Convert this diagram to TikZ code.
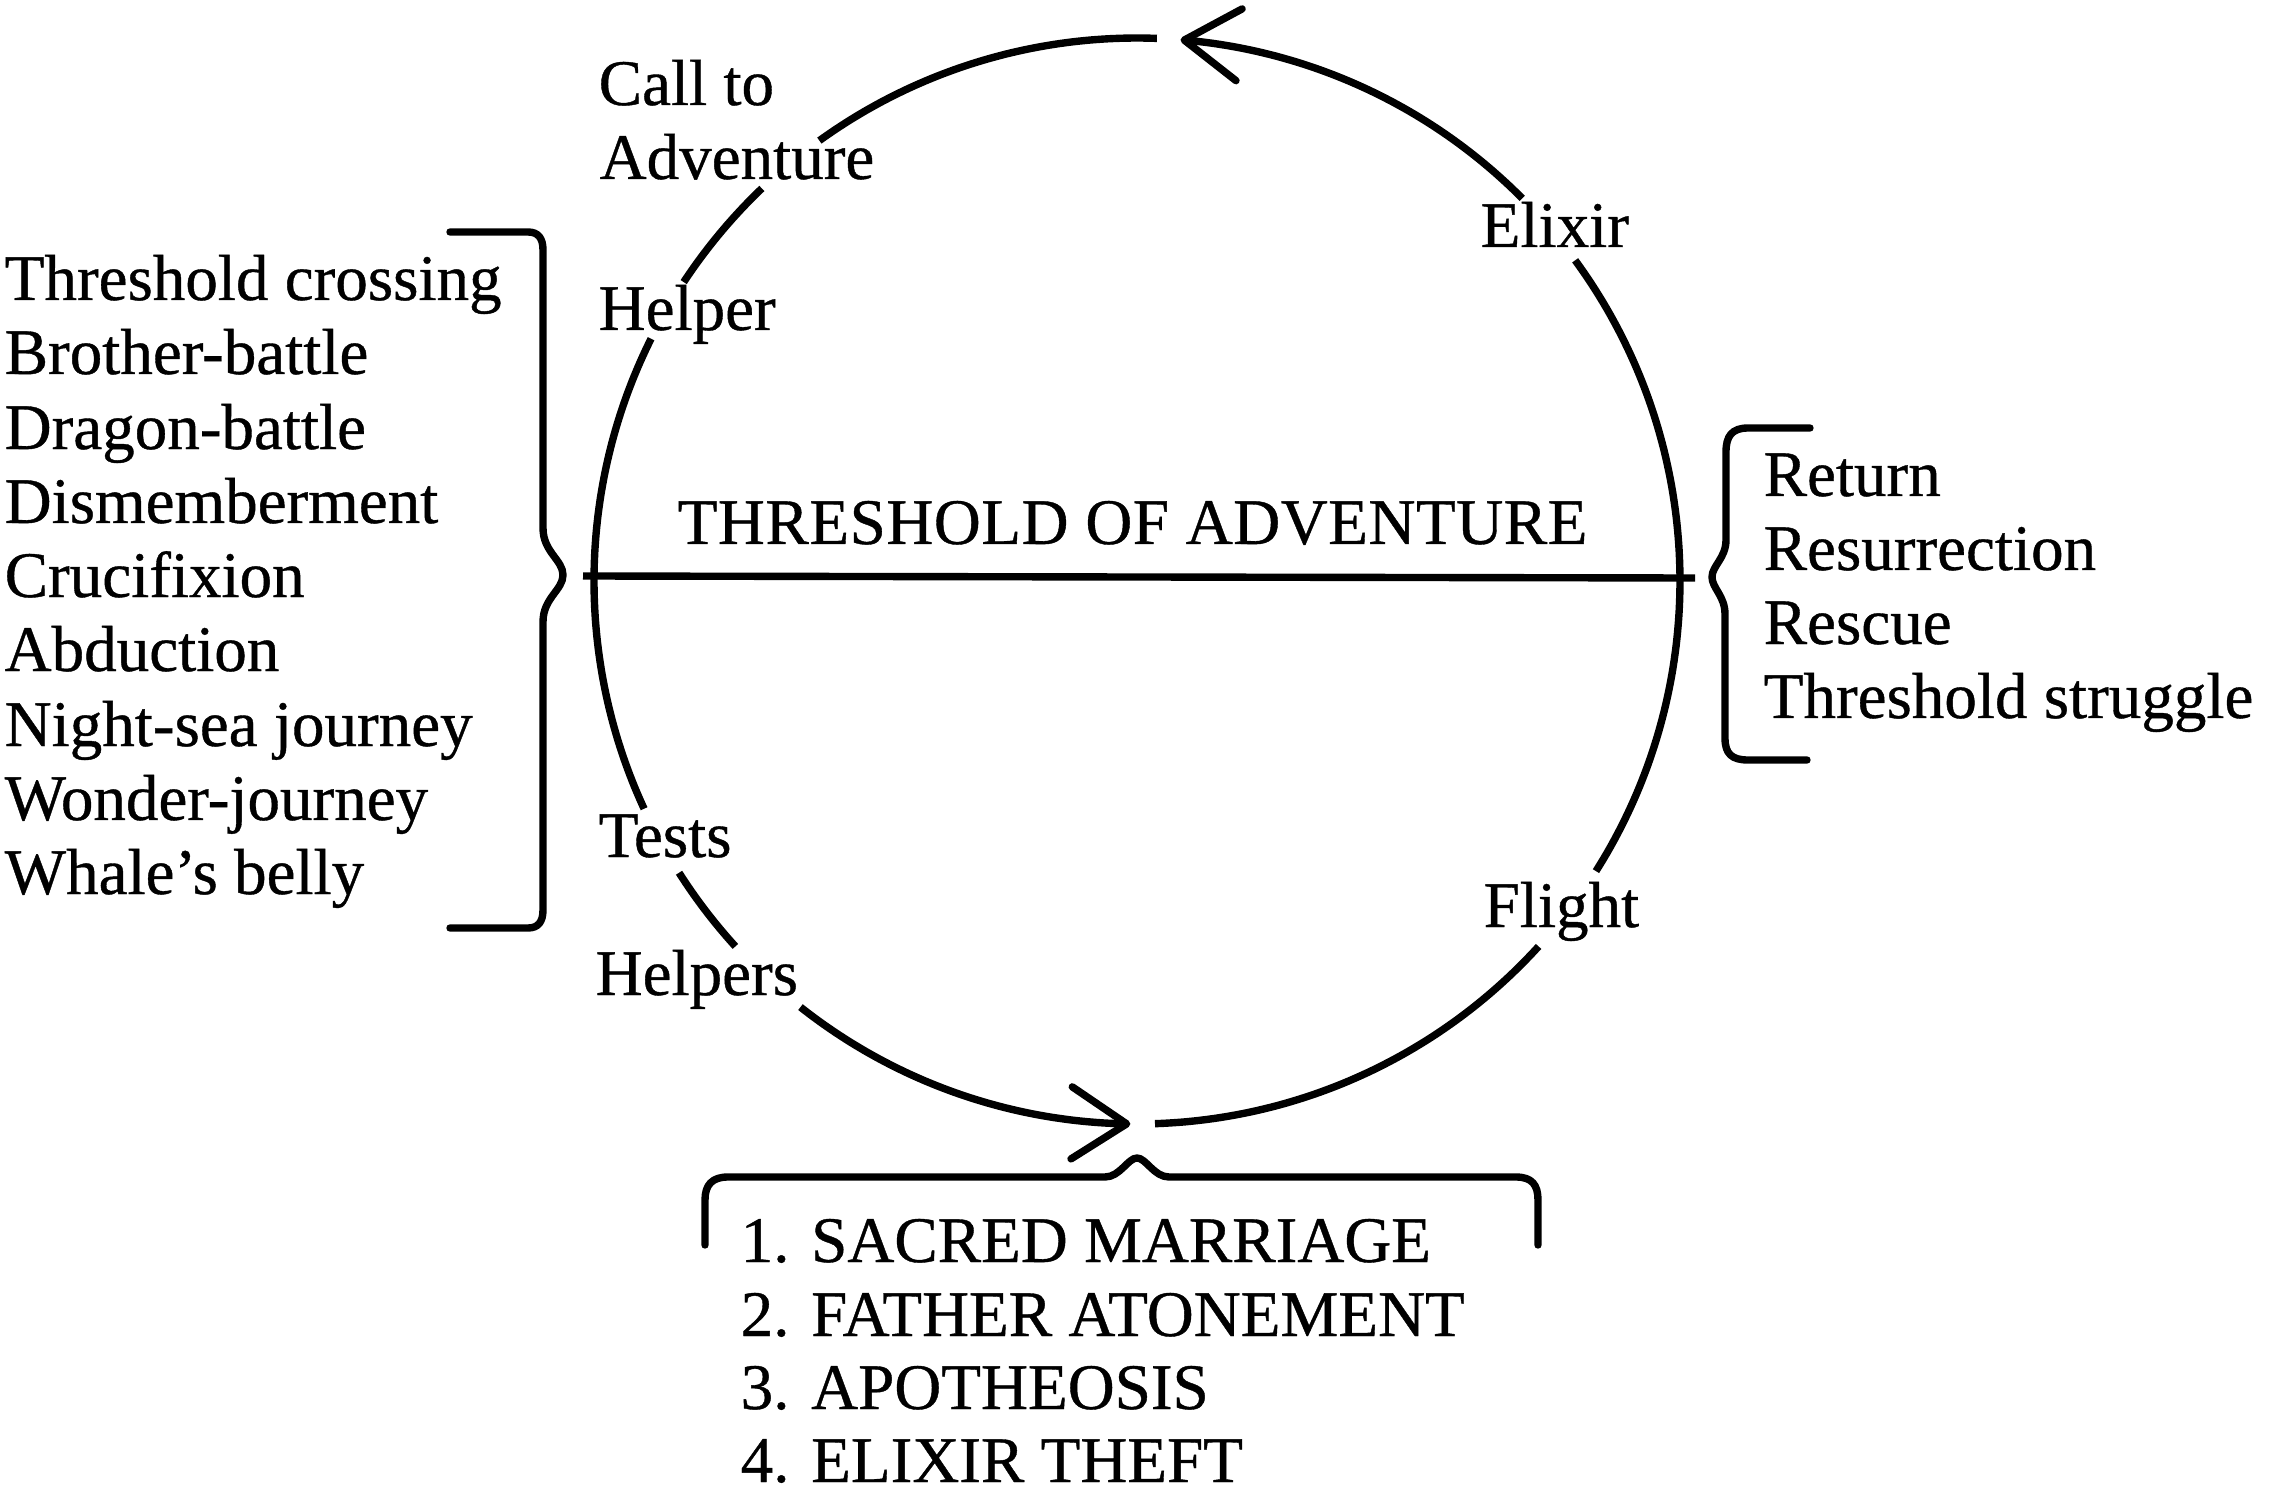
\documentclass[tikz,border=0pt]{standalone}
\usepackage{fontspec}
\setmainfont{Liberation Serif}[FakeBold=0.6]
\usetikzlibrary{arrows.meta}
\begin{document}
\begin{tikzpicture}[x=0.01cm, y=-0.01cm,
  txt/.style={anchor=base west, inner sep=0pt, font=\fontsize{18.5}{22}\selectfont},
  ring/.style={line width=2.1pt},
  brace/.style={line width=2.1pt, line join=round, line cap=round},
  head/.style={-{Straight Barb[length=0.55cm, width=0.72cm, line width=2.1pt, round]}}]
\useasboundingbox (0,0) rectangle (2271,1491);
\fill[white] (0,0) rectangle (2271,1491);
% circle segments (math angles, centre 1137,581, radius 543)
\draw[ring,head] plot[domain=44.8:85.4, samples=60] ({1137+543*cos(\x)},{581-543*sin(\x)});
\draw[ring] plot[domain=87.9:125.8, samples=60] ({1137+543*cos(\x)},{581-543*sin(\x)});
\draw[ring] plot[domain=133.7:146.6, samples=30] ({1137+543*cos(\x)},{581-543*sin(\x)});
\draw[ring] plot[domain=153.5:204.8, samples=80] ({1137+543*cos(\x)},{581-543*sin(\x)});
\draw[ring] plot[domain=212.5:222.3, samples=30] ({1137+543*cos(\x)},{581-543*sin(\x)});
\draw[ring,head] plot[domain=231.7:269.3, samples=60] ({1137+543*cos(\x)},{581-543*sin(\x)});
\draw[ring] plot[domain=271.9:317.7, samples=60] ({1137+543*cos(\x)},{581-543*sin(\x)});
\draw[ring] plot[domain=327.7:396.2, samples=90] ({1137+543*cos(\x)},{581-543*sin(\x)});
% threshold line
\coordinate (thL) at (583,576);
\coordinate (thR) at (1695,578);
\draw[ring] (thL) -- (thR);
\node[txt] (thr) at (677,544) {\addfontfeature{LetterSpace=0.8}THRESHOLD OF ADVENTURE};
% labels on the circle
\node[txt] (call) at (598,105) {Call to};
\node[txt] (adv) at (599,179) {Adventure};
\node[txt] (helper) at (598,330) {Helper};
\node[txt] (tests) at (598,857) {Tests};
\node[txt] (helpers) at (595,995) {Helpers};
\node[txt] (elixir) at (1480,247) {Elixir};
\node[txt] (flight) at (1483,927) {Flight};
% left list
\node[txt] (l1) at (4,300) {Threshold crossing};
\node[txt] (l2) at (4,374) {Brother-battle};
\node[txt] (l3) at (4,449) {Dragon-battle};
\node[txt] (l4) at (4,523) {Dismemberment};
\node[txt] (l5) at (4,597) {Crucifixion};
\node[txt] (l6) at (4,671) {Abduction};
\node[txt] (l7) at (4,746) {Night-sea journey};
\node[txt] (l8) at (4,820) {Wonder-journey};
\node[txt] (l9) at (4,894) {Whale’s belly};
\draw[brace] (450,232) -- (528,232) .. controls (538,232) and (543,238) .. (543,250) -- (543,528) .. controls (543,552) and (563,560) .. (563,575) .. controls (563,590) and (543,598) .. (543,622) -- (543,910) .. controls (543,922) and (538,928) .. (528,928) -- (450,928);
% right list
\node[txt] (r1) at (1763,496) {Return};
\node[txt] (r2) at (1763,570) {Resurrection};
\node[txt] (r3) at (1763,644) {Rescue};
\node[txt] (r4) at (1763,718) {Threshold struggle};
\draw[brace] (1810,428) -- (1748,428) .. controls (1732,428) and (1726,436) .. (1726,452) -- (1726,540) .. controls (1726,558) and (1712,566) .. (1712,577) .. controls (1712,588) and (1725,596) .. (1725,614) -- (1725,738) .. controls (1725,754) and (1732,760) .. (1748,760) -- (1807,760);
% bottom list
\draw[brace] (705,1245) -- (705,1200) .. controls (705,1185) and (712,1177) .. (728,1177) -- (1105,1177) .. controls (1120,1177) and (1128,1158) .. (1137,1158) .. controls (1146,1158) and (1154,1177) .. (1169,1177) -- (1516,1177) .. controls (1532,1177) and (1538,1185) .. (1538,1200) -- (1538,1245);
\node[txt] (b1) at (740,1262) {1. SACRED MARRIAGE};
\node[txt] (b2) at (740,1336) {2. FATHER ATONEMENT};
\node[txt] (b3) at (740,1409) {3. APOTHEOSIS};
\node[txt] (b4) at (740,1482) {4. ELIXIR THEFT};
\end{tikzpicture}
\end{document}
